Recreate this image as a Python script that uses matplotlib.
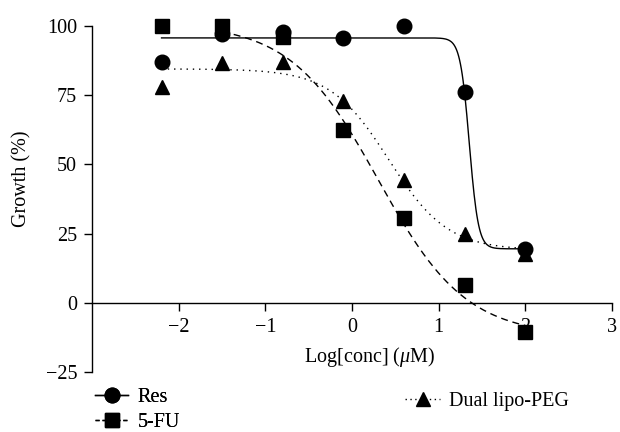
import numpy as np
import matplotlib
matplotlib.use("Agg")
import matplotlib.pyplot as plt
from matplotlib.lines import Line2D

plt.rcParams['font.family'] = ['Liberation Serif', 'DejaVu Serif']
plt.rcParams['mathtext.fontset'] = 'custom'
plt.rcParams['mathtext.it'] = 'Liberation Serif:italic'
plt.rcParams['mathtext.rm'] = 'Liberation Serif'

# Data
log_conc = [-2.2, -1.5, -0.8, -0.1, 0.6, 1.3, 2.0]
res = [87, 97, 98, 95.5, 100, 76, 19.5]
fu5 = [100, 100, 96, 62.5, 30.5, 6.5, -10.5]
dual = [78, 86.5, 87, 73, 44.5, 24.7, 17.5]

# 4PL fit parameters (top, bottom, logEC50, hill) and fit ranges
res_fit = (95.7, 19.5, 1.355, 8.3)
fu_fit = (101.0, -12.0, 0.302, 0.857)
dual_fit = (84.5, 19.0, 0.424, 1.278)
res_range = (-2.2, 2.0)
fu_range = (-1.5, 2.0)
dual_range = (-2.2, 2.0)

xticks = [-2, -1, 0, 1, 2, 3]
yticks = [-25, 0, 25, 50, 75, 100]


def four_pl(x, top, bottom, c, h):
    return bottom + (top - bottom) / (1 + 10 ** ((x - c) * h))


FS = 14.5
fig = plt.figure(figsize=(6.2, 4.32), dpi=100)
ax = fig.add_axes([92.3 / 620, 1 - 372 / 432, (611.7 - 92.3) / 620, (372 - 26) / 432])

lw = 1.0
for fit, rng, ls in [(res_fit, res_range, '-'), (fu_fit, fu_range, (0, (5, 3.5))),
                     (dual_fit, dual_range, (0, (1, 3.5)))]:
    xx = np.linspace(rng[0], rng[1], 400)
    ax.plot(xx, four_pl(xx, *fit), color='black', lw=lw, ls=ls, zorder=2, clip_on=False)

ax.plot(log_conc, dual, '^', color='black', ms=10.5, zorder=3, clip_on=False)
ax.plot(log_conc, fu5, 's', color='black', ms=9.5, zorder=3, clip_on=False)
ax.plot(log_conc, res, 'o', color='black', ms=10.5, zorder=4, clip_on=False)

ax.set_xlim(-3, 3)
ax.set_ylim(-25, 100)
ax.spines['top'].set_visible(False)
ax.spines['right'].set_visible(False)
ax.spines['bottom'].set_position(('data', 0))
for s in ['left', 'bottom']:
    ax.spines[s].set_linewidth(1.0)
ax.set_xticks(xticks)
ax.set_yticks(yticks)
ax.set_xticklabels(['\u2212' + str(-t) if t < 0 else str(t) for t in xticks])
ax.set_yticklabels(['\u2212' + str(-t) if t < 0 else str(t) for t in yticks])
ax.tick_params(direction='out', length=6, width=1.0, labelsize=FS, pad=5)

fig.text(370 / 620, 1 - 357 / 432, r'Log[conc] ($\mathit{\mu}$M)', ha='center', va='center', fontsize=FS)
fig.text(22 / 620, 1 - 179 / 432, 'Growth (%)', ha='center', va='center', rotation=90, fontsize=FS)

h_res = Line2D([], [], color='black', lw=lw, ls='-', marker='o', ms=10.5)
h_fu = Line2D([], [], color='black', lw=lw, ls=(0, (3, 2)), marker='s', ms=9.5)
h_dual = Line2D([], [], color='black', lw=lw, ls=(0, (1, 2.5)), marker='^', ms=10.5)

leg1 = fig.legend(handles=[h_res, h_fu], labels=['Res', '5-FU'], loc='upper left',
                  bbox_to_anchor=(95 / 620, 1 - 388 / 432), frameon=False, fontsize=FS,
                  handlelength=1.65, handletextpad=0.45, borderpad=0, labelspacing=0.3,
                  borderaxespad=0)
leg2 = fig.legend(handles=[h_dual], labels=['Dual lipo-PEG'], loc='upper left',
                  bbox_to_anchor=(405 / 620, 1 - 392 / 432), frameon=False, fontsize=FS,
                  handlelength=1.75, handletextpad=0.45, borderpad=0, borderaxespad=0)
fig.add_artist(leg1)

fig.savefig('out.png', dpi=100)
